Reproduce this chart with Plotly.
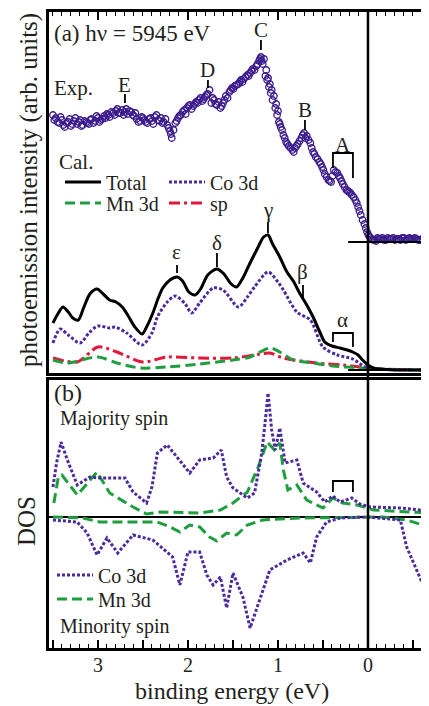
import plotly.graph_objects as go

# ---------------- data ----------------
# (a) experimental spectrum (binding energy in eV, intensity in arb. units)
exp_E = [3.50,3.47,3.43,3.40,3.37,3.33,3.30,3.27,3.23,3.20,3.17,3.13,3.10,3.07,3.03,3.00,
         2.97,2.93,2.90,2.87,2.83,2.80,2.77,2.73,2.70,2.67,2.63,2.60,2.57,2.53,2.50,
         2.47,2.43,2.40,2.37,2.33,2.30,2.27,2.23,2.20,2.18,2.14,2.11,2.08,2.04,2.01,
         1.98,1.94,1.91,1.88,1.84,1.81,1.78,1.74,1.71,1.68,1.64,1.61,1.58,1.54,1.51,
         1.48,1.44,1.41,1.38,1.34,1.31,1.28,1.24,1.21,1.19,1.17,1.14,1.12,1.10,1.08,
         1.06,1.03,1.01,0.99,0.97,0.94,0.91,0.88,0.84,0.81,0.78,0.74,0.71,0.68,0.64,
         0.61,0.58,0.54,0.51,0.48,0.44,0.41,0.38,0.34,0.31,0.28,0.24,0.21,0.18,0.14,
         0.11,0.08,0.04,0.01,-0.02,-0.06,-0.09,
         -0.12,-0.16,-0.20,-0.24,-0.28,-0.32,-0.36,-0.40,-0.44,-0.48,-0.52,-0.56,-0.60,-0.64,-0.68]
exp_I = [127,124,119,122,115,120,116,121,118,122,117,120,118,123,121,124,
         122,126,128,125,129,131,129,132,130,128,130,126,123,121,124,
         120,123,121,125,122,124,120,117,111,104,119,124,127,132,134,
         137,136,140,142,141,145,148,139,142,137,134,139,146,150,154,
         156,158,162,163,167,169,173,176,181,185,178,166,162,155,149,
         142,134,127,120,115,107,100,96,92,94,98,104,109,106,99,
         90,85,80,75,68,62,60,72,69,64,58,52,50,47,42,
         35,27,18,10,5,2,1,
         3,4,2,3,4,3,2,4,3,3,4,2,3,4,3]
exp_E2 = [3.485,3.45,3.415,3.385,3.35,3.315,3.285,3.25,3.215,3.185,
          3.15,3.115,3.085,3.05,3.015,2.985,2.95,2.915,2.885,2.85,
          2.815,2.785,2.75,2.715,2.685,2.65,2.615,2.585,2.55,2.515,
          2.485,2.45,2.415,2.385,2.35,2.315,2.285,2.25,2.215,2.19,
          2.16,2.125,2.095,2.06,2.025,1.995,1.96,1.925,1.895,1.86,
          1.825,1.795,1.76,1.725,1.695,1.66,1.625,1.595,1.56,1.525,
          1.495,1.46,1.425,1.395,1.36,1.325,1.295,1.26,1.225,1.20,
          1.18,1.155,1.13,1.11,1.09,1.07,1.045,1.02,1.00,0.98,
          0.955,0.925,0.895,0.86,0.825,0.795,0.76,0.725,0.695,0.66,
          0.625,0.595,0.56,0.525,0.495,0.46,0.425,0.395,0.36,0.325,
          0.295,0.26,0.225,0.195,0.16,0.125,0.095,0.06,0.025,-0.005,
          -0.04,-0.075,-0.105,-0.14,-0.18,-0.22,-0.26,-0.30,-0.34,-0.38,
          -0.42,-0.46,-0.50,-0.54,-0.58,-0.62,-0.66]
exp_I2 = [122,120,125,117,119,123,118,124,120,116,
          121,119,122,119,126,120,123,124,127,130,
          127,133,129,127,133,131,127,129,120,125,
          122,119,124,118,127,121,119,123,114,108,
          112,121,126,130,128,136,133,138,139,144,
          143,147,152,144,138,140,136,142,144,152,
          153,157,160,160,165,166,171,172,178,183,
          181,183,172,164,158,152,146,138,131,118,
          112,104,98,94,90,96,101,107,104,102,
          94,88,83,78,72,65,61,66,70,66,
          61,55,51,49,45,39,31,22,14,7,
          3,2,4,3,2,4,3,2,3,4,
          2,4,3,3,2,4,3]
EXP_OFFSET = 128

# (a) calculated spectra
tot_E = [3.50,3.44,3.39,3.33,3.28,3.22,3.16,3.09,3.01,2.93,2.87,2.80,2.73,2.67,2.59,2.51,2.46,2.39,2.33,2.28,
         2.20,2.12,2.06,1.99,1.92,1.86,1.78,1.68,1.60,1.52,1.46,1.39,1.31,1.22,1.16,1.11,1.06,0.98,0.90,0.83,
         0.76,0.68,0.61,0.54,0.48,0.40,0.31,0.23,0.17,0.11,0.06,0.00,-0.06,-0.13,-0.30,-0.68]
tot_I = [47,57,63,58,52,50,62,76,81,75,70,68,63,55,43,36,43,57,72,82,
         90,93,89,78,75,81,95,101,96,86,83,92,107,123,133,135,126,113,98,89,
         77,65,53,39,28,24,22,20,18,15,10,5,2,1,0,0]
co_E = [3.50,3.42,3.33,3.20,3.10,3.00,2.87,2.81,2.68,2.51,2.40,2.34,2.23,2.14,2.03,1.96,1.87,1.72,1.61,1.44,
        1.34,1.26,1.11,1.00,0.94,0.79,0.64,0.50,0.34,0.17,0.03,-0.10,-0.68]
co_I = [27,41,35,27,37,44,42,43,37,25,37,53,68,74,66,57,67,82,80,63,
        73,83,98,88,80,58,50,23,15,11,3,1,0]
mn_E = [3.50,3.34,3.00,2.79,2.53,2.23,1.87,1.50,1.31,1.09,0.98,0.83,0.61,0.39,0.06,-0.10,-0.68]
mn_I = [10,7,13,7,2,3,6,10,13,22,18,10,7,4,2,1,0]
sp_E = [3.50,3.23,3.00,2.79,2.50,2.23,1.87,1.50,1.20,1.09,0.94,0.57,0.28,0.01,-0.10,-0.68]
sp_I = [12,8,23,18,8,13,12,12,16,17,12,7,5,2,1,0]

# (b) DOS, majority (+) and minority (-)
co_maj_E = [3.50,3.46,3.41,3.34,3.23,3.09,2.98,2.70,2.61,2.46,2.40,2.34,2.23,2.12,1.98,1.87,1.72,1.63,1.57,1.50,
            1.34,1.26,1.18,1.14,1.11,1.07,1.03,0.98,0.92,0.79,0.72,0.57,0.48,0.39,0.31,0.18,0.09,-0.02,-0.36,-0.68]
co_maj = [30,54,75,57,32,40,39,39,25,14,30,64,72,60,44,57,59,67,40,29,
          19,24,64,97,124,87,67,89,54,57,34,25,15,21,15,19,13,10,9,6]
mn_maj_E = [3.49,3.44,3.40,3.23,3.01,2.87,2.61,2.46,2.31,1.87,1.64,1.50,1.34,1.22,1.12,1.04,0.98,0.94,0.89,0.79,
            0.68,0.50,0.39,0.28,0.12,-0.06,-0.68]
mn_maj = [14,40,42,22,45,24,10,3,5,4,7,14,25,50,75,67,74,47,27,32,
          17,9,19,14,12,7,4]
co_min_E = [3.50,3.23,3.12,3.01,2.90,2.78,2.61,2.39,2.17,2.09,2.00,1.87,1.79,1.72,1.64,1.57,1.50,1.39,1.31,1.20,
            1.09,0.90,0.72,0.64,0.57,0.46,0.31,0.01,-0.36,-0.43,-0.54,-0.67]
co_min = [-3,-5,-16,-38,-21,-36,-18,-23,-40,-68,-35,-35,-58,-68,-60,-91,-56,-80,-111,-83,
          -53,-43,-36,-46,-20,-5,-1,0,-3,-30,-53,-80]
mn_min_E = [3.50,3.17,2.98,2.61,2.34,2.20,2.09,1.98,1.87,1.76,1.68,1.57,1.46,1.34,1.17,0.76,-0.17,-0.43,-0.68]
mn_min = [0,-1,-5,-5,-5,-10,-15,-8,-10,-20,-24,-16,-18,-8,-3,-1,0,-3,-10]

tick_vals = [3.5, 3.0, 2.5, 2.0, 1.5, 1.0, 0.5, 0.0, -0.5]
tick_text = ["", "3", "", "2", "", "1", "", "0", ""]

# ---------------- styling ----------------
FONT = "Liberation Serif"
TXT = "#231f20"
PURPLE = "#3b1a8c"
COPURP = "#4a2a9e"
GREEN = "#1f9e3f"
RED = "#e3173a"
XR = [3.544, -0.678]

# page body has an 8px default margin: size the figure so it fills the window
PAGE = 8
W, H = 429 - PAGE, 706 - PAGE
L, T, B = 49 - PAGE, 12 - PAGE, 58
pw, ph = W - L, H - T - B


def py2paper(py):   # py: pixel row in the window
    return (H - B - (py - PAGE)) / ph


def px2paper(px):   # px: pixel column in the window
    return (px - PAGE - L) / pw


fig = go.Figure()

fig.add_trace(go.Scatter(x=exp_E + exp_E2, y=[v + EXP_OFFSET for v in exp_I + exp_I2],
                         mode="markers", xaxis="x", yaxis="y",
                         marker=dict(symbol="circle-open", size=6.5, color=PURPLE,
                                     line=dict(width=1.3, color=PURPLE)),
                         showlegend=False))
fig.add_trace(go.Scatter(x=sp_E, y=sp_I, mode="lines", xaxis="x", yaxis="y", name="sp",
                         line=dict(color=RED, width=3, dash="11px,4px,3px,4px", shape="spline", smoothing=0.8),
                         legend="legend4"))
fig.add_trace(go.Scatter(x=mn_E, y=mn_I, mode="lines", xaxis="x", yaxis="y", name="Mn 3d",
                         line=dict(color=GREEN, width=3, dash="10px,5px", shape="spline", smoothing=0.8),
                         legend="legend2"))
fig.add_trace(go.Scatter(x=co_E, y=co_I, mode="lines", xaxis="x", yaxis="y", name="Co 3d",
                         line=dict(color=COPURP, width=3, dash="3px,2px", shape="spline", smoothing=0.8),
                         legend="legend3"))
fig.add_trace(go.Scatter(x=tot_E, y=tot_I, mode="lines", xaxis="x", yaxis="y", name="Total",
                         line=dict(color="black", width=3, shape="spline", smoothing=0.8),
                         legend="legend"))

# (b)
fig.add_trace(go.Scatter(x=mn_maj_E, y=mn_maj, mode="lines", xaxis="x2", yaxis="y2", name="Mn 3d",
                         line=dict(color=GREEN, width=3, dash="10px,5px"), legend="legend6"))
fig.add_trace(go.Scatter(x=mn_min_E, y=mn_min, mode="lines", xaxis="x2", yaxis="y2", name="Mn 3d",
                         line=dict(color=GREEN, width=3, dash="10px,5px"), showlegend=False))
fig.add_trace(go.Scatter(x=co_maj_E, y=co_maj, mode="lines", xaxis="x2", yaxis="y2", name="Co 3d",
                         line=dict(color=COPURP, width=3, dash="3px,2px"), legend="legend5"))
fig.add_trace(go.Scatter(x=co_min_E, y=co_min, mode="lines", xaxis="x2", yaxis="y2", name="Co 3d",
                         line=dict(color=COPURP, width=3, dash="3px,2px"), showlegend=False))

axis_common = dict(range=XR, showgrid=False, zeroline=False, showline=True, linewidth=2.5,
                   linecolor="black", mirror=True, ticks="inside", ticklen=8, tickwidth=1.5,
                   tickcolor="black", tickmode="array", tickvals=tick_vals, ticktext=tick_text,
                   minor=dict(ticks="inside", dtick=0.1, tick0=0, ticklen=4, tickwidth=1.3,
                              tickcolor="black", showgrid=False))

leg_base = dict(bgcolor="rgba(0,0,0,0)", borderwidth=0, font=dict(family=FONT, size=20, color=TXT),
                xanchor="left", yanchor="middle", itemwidth=36)

fig.update_layout(
    width=W, height=H,
    margin=dict(l=L, r=0, t=T, b=B, pad=0),
    paper_bgcolor="white", plot_bgcolor="white",
    font=dict(family=FONT, size=20, color=TXT),
    xaxis=dict(axis_common, anchor="y", side="top", showticklabels=False),
    xaxis2=dict(axis_common, anchor="y2", side="bottom", matches="x", ticklabelstandoff=-3,
                tickfont=dict(family=FONT, size=20, color=TXT)),
    yaxis=dict(domain=[py2paper(373), 1], range=[-3, 358], showgrid=False, zeroline=False,
               showline=True, linewidth=2.5, linecolor="black", ticks="", showticklabels=False, anchor="x"),
    yaxis2=dict(domain=[0, py2paper(380)], range=[-131, 137], showgrid=False, zeroline=True,
                zerolinewidth=2, zerolinecolor="black", showline=True, linewidth=2.5, linecolor="black",
                ticks="", showticklabels=False, anchor="x2"),
    legend=dict(leg_base, x=px2paper(60), y=py2paper(182)),
    legend2=dict(leg_base, x=px2paper(60), y=py2paper(203)),
    legend3=dict(leg_base, x=px2paper(164), y=py2paper(182)),
    legend4=dict(leg_base, x=px2paper(164), y=py2paper(203)),
    legend5=dict(leg_base, x=px2paper(52), y=py2paper(575)),
    legend6=dict(leg_base, x=px2paper(52), y=py2paper(599)),
)

shapes = []
# Fermi level line through both panels
shapes.append(dict(type="line", xref="x", yref="paper", x0=0, x1=0, y0=0, y1=1,
                   line=dict(color="black", width=2.5)))
# baselines at right
shapes.append(dict(type="line", xref="x", yref="y", x0=0.22, x1=XR[1], y0=EXP_OFFSET, y1=EXP_OFFSET,
                   line=dict(color="black", width=2)))
shapes.append(dict(type="line", xref="x", yref="y", x0=0.22, x1=XR[1], y0=0, y1=0,
                   line=dict(color="black", width=2)))

# peak markers: (label, x, label_y, tick_y0, tick_y1)
peaks = [("E", 2.70, 285, 267, 276), ("D", 1.778, 300, 282, 290), ("C", 1.189, 340, 320, 330),
         ("B", 0.70, 260, 240, 250),
         ("ε", 2.122, 118, 97, 105), ("δ", 1.678, 127, 103, 117), ("γ", 1.111, 160, 137, 148),
         ("β", 0.722, 98, 72, 85)]
ann = []
for lab, x, ly, t0, t1 in peaks:
    ann.append(dict(text=lab, x=x, y=ly, xref="x", yref="y", showarrow=False,
                    font=dict(family=FONT, size=21, color=TXT)))
    shapes.append(dict(type="line", xref="x", yref="y", x0=x, x1=x, y0=t0, y1=t1,
                       line=dict(color="black", width=1.8)))


def bracket(yref, top, left_bot, right_bot):
    return dict(type="path", xref="x", yref=yref,
                path=f"M 0.389 {left_bot} L 0.389 {top} L 0.167 {top} L 0.167 {right_bot}",
                line=dict(color="black", width=1.8))


shapes.append(bracket("y", 217, 202, 192))
shapes.append(bracket("y", 37, 28, 23))
shapes.append(bracket("y2", 36, 25, 25))
ann.append(dict(text="A", x=0.278, y=225, xref="x", yref="y", showarrow=False,
                font=dict(family=FONT, size=21, color=TXT)))
ann.append(dict(text="α", x=0.278, y=50, xref="x", yref="y", showarrow=False,
                font=dict(family=FONT, size=21, color=TXT)))


def tl(text, px, py, size):
    return dict(text=text, x=px2paper(px), y=py2paper(py), xref="paper", yref="paper",
                xanchor="left", yanchor="middle", showarrow=False,
                font=dict(family=FONT, size=size, color=TXT))


ann.append(tl("(a) hν = 5945 eV", 52, 34, 23))
ann.append(tl("Exp.", 52, 88, 21))
ann.append(tl("Cal.", 57, 162, 21))
ann.append(tl("(b)", 52, 393, 24))
ann.append(tl("Majority spin", 58, 418, 20))
ann.append(tl("Minority spin", 58, 626, 20))

ann.append(dict(text="photoemission intensity (arb. units)", x=px2paper(29), y=py2paper(190),
                xref="paper", yref="paper", textangle=-90, showarrow=False,
                xanchor="center", yanchor="middle", font=dict(family=FONT, size=25, color=TXT)))
ann.append(dict(text="DOS", x=px2paper(26), y=py2paper(521),
                xref="paper", yref="paper", textangle=-90, showarrow=False,
                xanchor="center", yanchor="middle", font=dict(family=FONT, size=25, color=TXT)))
ann.append(dict(text="binding energy (eV)", x=px2paper(232), y=py2paper(691),
                xref="paper", yref="paper", showarrow=False,
                xanchor="center", yanchor="middle", font=dict(family=FONT, size=24, color=TXT)))

fig.update_layout(shapes=shapes, annotations=ann)

fig.write_html("out.html")
